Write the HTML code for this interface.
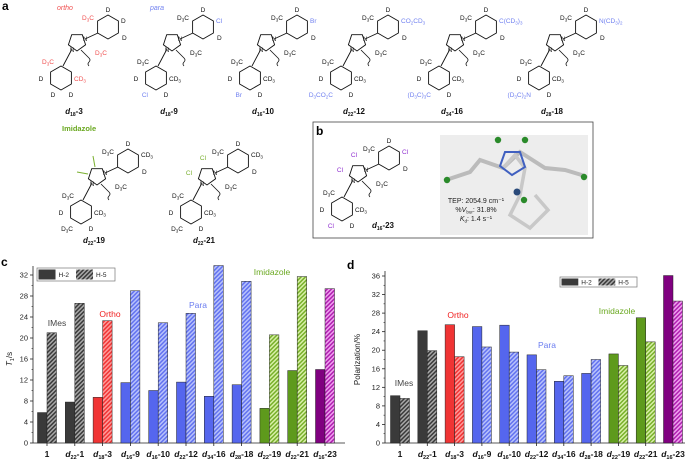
<!DOCTYPE html>
<html><head><meta charset="utf-8">
<style>
html,body{margin:0;padding:0;background:#fff;}
svg{display:block;font-family:"Liberation Sans",sans-serif;}
</style></head>
<body>
<svg id="fig" width="685" height="461" viewBox="0 0 685 461" xmlns="http://www.w3.org/2000/svg">
<defs>
<pattern id="h-black" patternUnits="userSpaceOnUse" width="3" height="3" patternTransform="rotate(45)"><rect width="3" height="3" fill="#a8a8a8"/><rect width="1.5" height="3" fill="#3a3a3a"/></pattern>
<pattern id="h-red" patternUnits="userSpaceOnUse" width="3" height="3" patternTransform="rotate(45)"><rect width="3" height="3" fill="#ff9a9a"/><rect width="1.5" height="3" fill="#f03434"/></pattern>
<pattern id="h-blue" patternUnits="userSpaceOnUse" width="3" height="3" patternTransform="rotate(45)"><rect width="3" height="3" fill="#b8c2fb"/><rect width="1.5" height="3" fill="#6272f0"/></pattern>
<pattern id="h-green" patternUnits="userSpaceOnUse" width="3" height="3" patternTransform="rotate(45)"><rect width="3" height="3" fill="#d8f0a8"/><rect width="1.5" height="3" fill="#78b02a"/></pattern>
<pattern id="h-purple" patternUnits="userSpaceOnUse" width="3" height="3" patternTransform="rotate(45)"><rect width="3" height="3" fill="#f0a0f0"/><rect width="1.5" height="3" fill="#b020b0"/></pattern>
</defs>
<g id="structs"></g>
<g id="chartc"></g>
<g id="chartd"></g>
</svg>
<script>
// ---- chart data ----
const categories = ["1","d22-1","d18-3","d16-9","d16-10","d22-12","d34-16","d28-18","d22-19","d22-21","d16-23"];
const groupColors = ["black","black","red","blue","blue","blue","blue","blue","green","green","purple"];
const t1H2 = [5.8,7.8,8.7,11.5,10.0,11.6,8.9,11.1,6.6,13.8,14.0];
const t1H5 = [21.0,26.6,23.3,29.0,22.9,24.7,33.8,30.8,20.6,31.7,29.4];
const polH2 = [10.2,24.2,25.5,25.1,25.4,19.0,13.3,15.0,19.2,27.0,36.1];
const polH5 = [9.6,19.9,18.6,20.7,19.6,15.8,14.5,18.0,16.7,21.8,30.6];
const t1Ticks = [0,4,8,12,16,20,24,28,32];
const polTicks = [0,4,8,12,16,20,24,28,32,36];

const NS="http://www.w3.org/2000/svg";
const solid={black:"#3a3a3a",red:"#f03434",blue:"#5566ee",green:"#5e9a1c",purple:"#800080"};
function el(tag,attrs,parent,text){const e=document.createElementNS(NS,tag);for(const k in attrs)e.setAttribute(k,attrs[k]);if(text!==undefined)e.textContent=text;parent.appendChild(e);return e;}

function catLabel(g,x,y,c){
  const t=el("text",{x:x,y:y,"text-anchor":"middle","font-size":"8.5","font-weight":"bold",fill:"#111"},g);
  
  
  const m=c.match(/^d(\d+)-(\d+)$/);
  if(!m){t.textContent=c;return;}
  el("tspan",{"font-style":"italic"},t,"d");
  el("tspan",{dy:"2","font-size":"5.5"},t,m[1]);
  el("tspan",{dy:"-2"},t,"-"+m[2]);
}

function drawChart(gid,o){
  const g=document.getElementById(gid);
  const yS=v=>o.y0-(v/o.yMax)*(o.y0-o.yTop);
  const xS=i=>o.c0+o.step*i;
  const ax=el("line",{x1:o.ax,y1:o.y0,x2:o.ax,y2:o.axTop,stroke:"#222","stroke-width":"0.8"},g);
  
  const bx=el("line",{x1:o.ax,y1:o.y0,x2:o.axRight,y2:o.y0,stroke:"#222","stroke-width":"0.8"},g);
  
  o.ticks.forEach((v,i)=>{
    const y=yS(v);
    el("line",{x1:o.ax-3,y1:y,x2:o.ax,y2:y,stroke:"#222","stroke-width":"0.8"},g);
    const t=el("text",{x:o.ax-5,y:y+2.5,"text-anchor":"end","font-size":"7.5",fill:"#222"},g,String(v));
    
    if(i<o.ticks.length-1){const ym=yS(v+2);el("line",{x1:o.ax-1.5,y1:ym,x2:o.ax,y2:ym,stroke:"#222","stroke-width":"0.6"},g);}
  });
  categories.forEach((c,i)=>{
    const cx=xS(i);
    el("line",{x1:cx,y1:o.y0,x2:cx,y2:o.y0+3,stroke:"#222","stroke-width":"0.8"},g);
    const col=groupColors[i];
    const b1=el("rect",{x:cx-o.bw,y:yS(o.s1[i]),width:o.bw,height:o.y0-yS(o.s1[i]),fill:solid[col],stroke:"#222","stroke-width":"0.5"},g);
    
    const b2=el("rect",{x:cx,y:yS(o.s2[i]),width:o.bw,height:o.y0-yS(o.s2[i]),fill:"url(#h-"+col+")",stroke:"#222","stroke-width":"0.5"},g);
    
    catLabel(g,cx,o.y0+14,c);
  });
  const yt=el("text",{x:0,y:0,"text-anchor":"middle","font-size":"8",fill:"#222",transform:`translate(${o.ytX},${(o.y0+o.yTop)/2}) rotate(-90)`},g);
  
  o.ytitle(yt);
  const pl=el("text",{x:o.letter[0],y:o.letter[1],"font-size":"12","font-weight":"bold",fill:"#000"},g,o.letterText);
  
  const L=o.legend;
  const lg=el("g",{},g);
  el("rect",{x:L[0],y:L[1],width:L[2],height:L[3],fill:"#fff",stroke:"#777","stroke-width":"0.7"},lg);
  const sw=L[3]-3, w=(L[2]-4)/2;
  el("rect",{x:L[0]+1.5,y:L[1]+1.5,width:w*0.46,height:sw,fill:"#3a3a3a"},lg);
  el("text",{x:L[0]+3+w*0.5,y:L[1]+L[3]/2+2.5,"font-size":"6.5",fill:"#222"},lg,"H-2");
  el("rect",{x:L[0]+2+w,y:L[1]+1.5,width:w*0.46,height:sw,fill:"url(#h-black)"},lg);
  el("text",{x:L[0]+3.5+w*1.5,y:L[1]+L[3]/2+2.5,"font-size":"6.5",fill:"#222"},lg,"H-5");
  o.notes.forEach(n=>{const t=el("text",{x:n[0],y:n[1],"text-anchor":"middle","font-size":"8.5",fill:n[3]},g,n[2]);});
}

drawChart("chartc",{y0:443,yTop:275,yMax:32,ax:33,axTop:266,axRight:345,c0:47,step:27.8,bw:9.5,
  ticks:t1Ticks,s1:t1H2,s2:t1H5,ytX:12,letter:[1,266],letterText:"c",legend:[37,268,78,13],
  ytitle:t=>{el("tspan",{"font-style":"italic"},t,"T");el("tspan",{dy:"2","font-size":"5.5"},t,"1");el("tspan",{dy:"-2"},t,"/s");},
  notes:[[57,326,"IMes","#444"],[110,317,"Ortho","#f02020"],[198,308,"Para","#6a7cf0"],[272,275,"Imidazole","#6aa820"]]});
drawChart("chartd",{y0:443,yTop:276,yMax:36,ax:385,axTop:271,axRight:685,c0:400,step:27.3,bw:9.5,
  ticks:polTicks,s1:polH2,s2:polH5,ytX:360,letter:[347,269],letterText:"d",legend:[560,277,77,10],
  ytitle:t=>{t.textContent="Polarization/%";},
  notes:[[404,386,"IMes","#444"],[458,318,"Ortho","#f02020"],[547,348,"Para","#6a7cf0"],[617,314,"Imidazole","#6aa820"]]});

// ---- chemical structures (schematic) ----
const S=document.getElementById("structs");
function hex(g,cx,cy,r){let p=[];for(let k=0;k<6;k++){const a=Math.PI/180*(-90+60*k);p.push((cx+r*Math.cos(a)).toFixed(1)+","+(cy+r*Math.sin(a)).toFixed(1));}el("polygon",{points:p.join(" "),fill:"none",stroke:"#111","stroke-width":"0.9"},g);}
function pent(g,cx,cy,r){let p=[];for(let k=0;k<5;k++){const a=Math.PI/180*(-54+72*k);p.push((cx+r*Math.cos(a)).toFixed(1)+","+(cy+r*Math.sin(a)).toFixed(1));}el("polygon",{points:p.join(" "),fill:"none",stroke:"#111","stroke-width":"0.9"},g);}
function lab(g,x,y,s,col,anchor,size){
  const t=el("text",{x:x,y:y,"font-size":size||"6.5",fill:col||"#111","text-anchor":anchor||"middle"},g);
  s.split(/(\d+)/).forEach((p,i)=>{
    if(!p)return;
    if(/^\d+$/.test(p)&&i>0){el("tspan",{dy:"1.5","font-size":"4.5"},t,p);el("tspan",{dy:"-1.5"},t,"\u200b");}
    else el("tspan",{},t,p);
  });
  return t;
}
function molName(g,x,y,a,b){
  const t=el("text",{x:x,y:y,"text-anchor":"middle","font-size":"8","font-weight":"bold",fill:"#111"},g);
  el("tspan",{"font-style":"italic"},t,"d");el("tspan",{dy:"2","font-size":"5"},t,a);el("tspan",{dy:"-2"},t,"-"+b);
  return t;
}
function mol(name,cx,cy,o){
  const g=el("g",{},S);
  
  
  pent(g,cx,cy,9);
  const ux=cx+31,uy=cy-15,lx=cx-16,ly=cy+36;
  hex(g,ux,uy,12);hex(g,lx,ly,12);
  el("line",{x1:cx+8,y1:cy-3,x2:ux-10,y2:uy+6,stroke:"#111","stroke-width":"0.9"},g);
  el("line",{x1:cx-5,y1:cy+7,x2:lx+2,y2:ly-12,stroke:"#111","stroke-width":"0.9"},g);
  el("path",{d:`M${cx+4},${cy+8} l8,8 q2,2 0,4 q-2,2 0,4`,fill:"none",stroke:"#111","stroke-width":"0.8"},g);
  lab(g,cx-5,cy+10,"N","#111","middle","6");lab(g,cx+8,cy-1,"N","#111","middle","6");
  lab(g,cx+11,cy-22,"D3C",o.oc);
  lab(g,ux,uy-15,o.top||"D");
  lab(g,ux+13,uy-4,o.upr||"D",o.pc,"start");
  lab(g,ux+14,uy+13,"D","#111","start");
  lab(g,cx+24,cy+13,"D3C",o.oc);
  lab(g,lx-13,ly-14,"D3C",o.oc);
  lab(g,lx+13,ly+3,"CD3",o.oc,"start");
  lab(g,lx-20,ly+3,"D");
  lab(g,lx-8,ly+19,o.lpr||"D",o.pc,o.lpr?"end":"middle");
  lab(g,lx+10,ly+19,"D");
  if(o.imid){o.imid(g,cx,cy);}
  molName(g,o.nx||cx-3,o.ny||cy+72,o.n1,o.n2);
}
const red="#f05050",blue="#7080f0";
let t=el("text",{x:57,y:10,"font-size":"7","font-style":"italic",fill:red},S,"ortho");
t=el("text",{x:150,y:10,"font-size":"7","font-style":"italic",fill:blue},S,"para");
t=el("text",{x:2,y:10,"font-size":"12","font-weight":"bold"},S,"a");
mol("d18-3",77,42,{oc:red,n1:"18",n2:"3",ny:114});
mol("d18-9",172,42,{pc:blue,upr:"Cl",lpr:"Cl",n1:"18",n2:"9",ny:114});
mol("d16-10",266,42,{pc:blue,upr:"Br",lpr:"Br",n1:"16",n2:"10",ny:114});
mol("d22-12",357,42,{pc:blue,upr:"CO2CD3",lpr:"D3CO2C",n1:"22",n2:"12",ny:114});
mol("d34-16",455,42,{pc:blue,upr:"C(CD3)3",lpr:"(D3C)3C",n1:"34",n2:"16",ny:114});
mol("d28-18",555,42,{pc:blue,upr:"N(CD3)2",lpr:"(D3C)2N",n1:"28",n2:"18",ny:114});
t=el("text",{x:62,y:131,"font-size":"7.5","font-weight":"bold",fill:"#6aa820"},S,"Imidazole");
const grn="#7ab030",pur="#9030d0";
mol("d22-19",97,176,{upr:"CD3",lpr:"D3C",n1:"22",n2:"19",ny:243,imid:(g,cx,cy)=>{el("line",{x1:cx-2,y1:cy-9,x2:cx-4,y2:cy-20,stroke:grn},g);el("line",{x1:cx-9,y1:cy-2,x2:cx-20,y2:cy-4,stroke:grn},g);}});
mol("d22-21",207,176,{upr:"CD3",lpr:"D3C",n1:"22",n2:"21",ny:243,imid:(g,cx,cy)=>{lab(g,cx-4,cy-16,"Cl",grn);lab(g,cx-18,cy-1,"Cl",grn);}});
const bg=el("g",{},S);
el("rect",{x:313,y:122,width:280,height:116,fill:"none",stroke:"#444","stroke-width":"0.8"},bg);
t=el("text",{x:316,y:135,"font-size":"12","font-weight":"bold"},bg,"b");
mol("d16-23",358,173,{upr:"Cl",lpr:"Cl",pc:pur,n1:"16",n2:"23",nx:383,ny:228,imid:(g,cx,cy)=>{lab(g,cx-4,cy-16,"Cl",pur);lab(g,cx-18,cy-1,"Cl",pur);}});
const cr=el("g",{},bg);
el("rect",{x:440,y:135,width:148,height:100,fill:"#ededed"},cr);
el("polyline",{points:"446,180 470,172 480,160 503,168 520,152 545,168 565,170 585,176",fill:"none",stroke:"#bbb","stroke-width":"4"},cr);
el("polyline",{points:"503,168 515,155 525,168 520,195 510,215 530,228 548,210 535,195",fill:"none",stroke:"#c8c8c8","stroke-width":"3.5"},cr);
el("polygon",{points:"505,152 520,152 525,167 512,175 500,166",fill:"none",stroke:"#4060c0","stroke-width":"2"},cr);
[[498,140],[525,140],[447,180],[584,177],[524,200]].forEach(p=>el("circle",{cx:p[0],cy:p[1],r:3.2,fill:"#2a8a2a"},cr));
el("circle",{cx:517,cy:192,r:3.5,fill:"#2a4a7a"},cr);
const tx=el("g",{"font-size":"7",fill:"#222"},bg);
el("text",{x:476,y:203,"text-anchor":"middle"},tx,"TEP: 2054.9 cm⁻¹");
const v=el("text",{x:476,y:212,"text-anchor":"middle"},tx);el("tspan",{},v,"%");el("tspan",{"font-style":"italic"},v,"V");el("tspan",{dy:"1.5","font-size":"4.5"},v,"bur");el("tspan",{dy:"-1.5"},v,": 31.8%");
const k=el("text",{x:476,y:221,"text-anchor":"middle"},tx);el("tspan",{"font-style":"italic"},k,"K");el("tspan",{dy:"1.5","font-size":"4.5"},k,"d");el("tspan",{dy:"-1.5"},k,": 1.4 s⁻¹");
</script>
</body></html>
